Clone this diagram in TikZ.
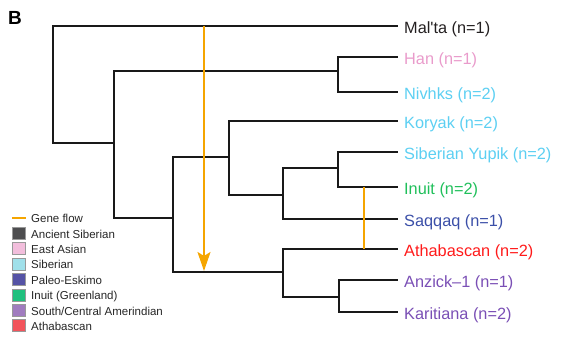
\documentclass[tikz,border=0pt]{standalone}
\usepackage{fontspec}
\setmainfont{Liberation Sans}
\usetikzlibrary{arrows.meta}
\definecolor{cMalta}{HTML}{231F20}
\definecolor{cHan}{HTML}{E99BCB}
\definecolor{cSib}{HTML}{5CCFF2}
\definecolor{cInuit}{HTML}{1FBF5A}
\definecolor{cSaq}{HTML}{3B4FA8}
\definecolor{cAth}{HTML}{FF1A1A}
\definecolor{cAmer}{HTML}{7A4FB5}
\definecolor{cGene}{HTML}{F5A500}
\definecolor{sAnc}{HTML}{4D4D4F}
\definecolor{sEA}{HTML}{F2BEDC}
\definecolor{sSib}{HTML}{A0E0EA}
\definecolor{sPal}{HTML}{5553A5}
\definecolor{sInu}{HTML}{20C07E}
\definecolor{sAm}{HTML}{A07CBF}
\definecolor{sAth}{HTML}{F2545B}
\begin{document}
\begin{tikzpicture}[x=1pt,y=-1pt,
  branch/.style={line width=1.6pt,draw=black!90,line cap=rect},
  flow/.style={line width=2pt,draw=cGene},
  leaflabel/.style={anchor=base west,inner sep=0pt,font=\fontsize{16.3}{18}\selectfont},
  legtext/.style={anchor=base west,inner sep=0pt,font=\fontsize{11.5}{13}\selectfont,text=black!85},
  swatch/.style={draw=black!40,line width=0.6pt,minimum width=13pt,minimum height=12pt,inner sep=0pt}]
\useasboundingbox (0,0) rectangle (565,339);
\node[anchor=base west,inner sep=0pt,font=\fontsize{19}{21}\selectfont\bfseries] (panel) at (8,25) {B};
% leaf ends
\coordinate (Lmalta) at (397,26);
\coordinate (Lhan) at (397,57);
\coordinate (Lniv) at (397,92);
\coordinate (Lkor) at (397,121);
\coordinate (Lyup) at (397,152);
\coordinate (Linu) at (397,187);
\coordinate (Lsaq) at (397,219);
\coordinate (Lath) at (397,249);
\coordinate (Lanz) at (397,280);
\coordinate (Lkar) at (397,312);
% internal nodes
\coordinate (R) at (53,80);
\coordinate (A) at (114,143);
\coordinate (HN) at (338,71);
\coordinate (Bn) at (173,218);
\coordinate (C) at (229,157);
\coordinate (D) at (283,272);
\coordinate (E) at (283,195);
\coordinate (F) at (338,168);
\coordinate (G) at (339,297);
% tree
\draw[branch] (Lmalta) -| (R) |- (A);
\draw[branch] (HN) -| (A) |- (Bn);
\draw[branch] (Lhan) -| (HN) |- (Lniv);
\draw[branch] (C) -| (Bn) |- (D);
\draw[branch] (Lkor) -| (C) |- (E);
\draw[branch] (F) -| (E) |- (Lsaq);
\draw[branch] (Lyup) -| (F) |- (Linu);
\draw[branch] (Lath) -| (D) |- (G);
\draw[branch] (Lanz) -| (G) |- (Lkar);
% gene flow
\coordinate (gfTop) at (204,26);
\coordinate (gfTip) at (204,271);
\draw[flow,-{Stealth[length=19pt,width=13pt,inset=4pt]}] (gfTop) -- (gfTip);
\coordinate (gf2a) at (364,187);
\coordinate (gf2b) at (364,249);
\draw[flow] (gf2a) -- (gf2b);
% labels
\node[leaflabel,text=cMalta] (malta) at (404,33.5) {Mal\textquotesingle ta (n=1)};
\node[leaflabel,text=cHan] (han) at (404,64.5) {Han (n=1)};
\node[leaflabel,text=cSib] (niv) at (404,99.5) {Nivhks (n=2)};
\node[leaflabel,text=cSib] (kor) at (404,128.5) {Koryak (n=2)};
\node[leaflabel,text=cSib] (yup) at (404,159.5) {Siberian Yupik (n=2)};
\node[leaflabel,text=cInuit] (inu) at (404,194.5) {Inuit (n=2)};
\node[leaflabel,text=cSaq] (saq) at (404,226.5) {Saqqaq (n=1)};
\node[leaflabel,text=cAth] (ath) at (404,256.5) {Athabascan (n=2)};
\node[leaflabel,text=cAmer] (anz) at (404,287.5) {Anzick\textendash 1 (n=1)};
\node[leaflabel,text=cAmer] (kar) at (404,319.5) {Karitiana (n=2)};
% legend
\coordinate (lgA) at (12,218);
\coordinate (lgB) at (26,218);
\draw[flow] (lgA) -- (lgB);
\node[legtext] (tgf) at (31,223) {Gene flow};
\node[swatch,fill=sAnc] (s1) at (19,233.4) {};
\node[legtext] (t1) at (31,238.4) {Ancient Siberian};
\node[swatch,fill=sEA] (s2) at (19,248.7) {};
\node[legtext] (t2) at (31,253.7) {East Asian};
\node[swatch,fill=sSib] (s3) at (19,264) {};
\node[legtext] (t3) at (31,269) {Siberian};
\node[swatch,fill=sPal] (s4) at (19,279.4) {};
\node[legtext] (t4) at (31,284.4) {Paleo-Eskimo};
\node[swatch,fill=sInu] (s5) at (19,294.8) {};
\node[legtext] (t5) at (31,299.8) {Inuit (Greenland)};
\node[swatch,fill=sAm] (s6) at (19,310.1) {};
\node[legtext] (t6) at (31,315.1) {South/Central Amerindian};
\node[swatch,fill=sAth] (s7) at (19,325.5) {};
\node[legtext] (t7) at (31,330.5) {Athabascan};
\end{tikzpicture}
\end{document}
